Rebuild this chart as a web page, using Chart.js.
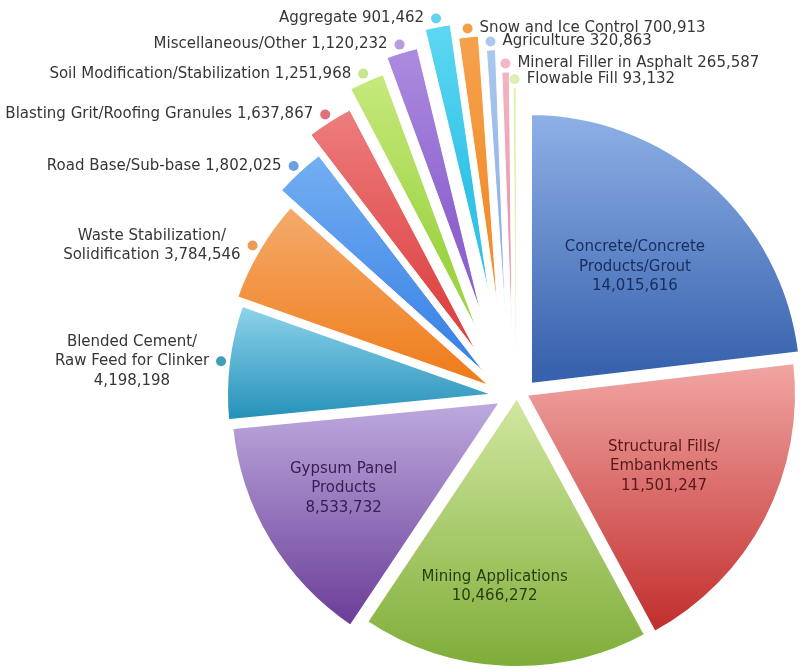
<!DOCTYPE html>
<html>
<head>
<meta charset="utf-8">
<title>Coal Combustion Products – Beneficial Use</title>
<script src="https://cdn.jsdelivr.net/npm/chart.js@4.4.1/dist/chart.umd.min.js"></script>
<style>
  html, body { margin: 0; padding: 0; background: #ffffff; overflow: hidden; width: 800px; height: 671px; }
  #wrap { position: absolute; left: 0; top: 0; width: 1006px; height: 800px; }
</style>
</head>
<body>
<div id="wrap"><canvas id="chart" width="1006" height="800"></canvas></div>
<script>
// Beneficial use by application (short tons)
const categories = [
  'Concrete/Concrete\nProducts/Grout',
  'Structural Fills/\nEmbankments',
  'Mining Applications',
  'Gypsum Panel\nProducts',
  'Blended Cement/\nRaw Feed for Clinker',
  'Waste Stabilization/\nSolidification',
  'Road Base/Sub-base',
  'Blasting Grit/Roofing Granules',
  'Soil Modification/Stabilization',
  'Miscellaneous/Other',
  'Aggregate',
  'Snow and Ice Control',
  'Agriculture',
  'Mineral Filler in Asphalt',
  'Flowable Fill'
];
const tonnage = [
  14015616, 11501247, 10466272, 8533732, 4198198, 3784546, 1802025,
  1637867, 1251968, 1120232, 901462, 700913, 320863, 265587, 93132
];
// whether the figure goes on its own line under the name
const valueOnOwnLine = [true, true, true, true, true, false, false, false, false, false, false, false, false, false, false];

// wedge shading: light at the top, deeper at the bottom
const shadeTop = ['#93b5ea', '#f2a9a6', '#d3e9a3', '#bdaade', '#93d6ee', '#f5ae72', '#7cb5f3', '#f28b8b', '#d6f191', '#bb9fe8', '#78e4f7', '#f8ac5e', '#b6d0f3', '#f5bfcb', '#e6f6b6'];
const shadeBottom = ['#3862ad', '#c2302f', '#80ae3a', '#6a3c97', '#2893ba', '#ef7d1c', '#3c84e6', '#de4646', '#9cd444', '#8d63cd', '#33c3e8', '#f28e2c', '#8db0e8', '#e88da6', '#c6e788'];
const dotColors = ['#5d86cf', '#e07a78', '#a9cc6c', '#9b80c2', '#3f9fb9', '#ef9a52', '#6b9fe2', '#e0707a', '#c9e68f', '#b99be0', '#5fd3ef', '#f2a04a', '#aec8f0', '#f3b7c5', '#dcefb0'];
const innerTextColors = ['#172d5c', '#561a1a', '#2b3d10', '#352052'];

// how far each wedge is pulled away from the centre (x, y), and its white edge
const explodeX = [27, 22, 14, -1, -5, -10, -19, -27, -26, -22, -14, -5.5, 2.6, 9, 13];
const explodeY = [-15, -6, -4, 1, -5, -12, -28, -49, -70, -87, -106, -92.6, -78.4, -56, -40];
const edgeWidth = [4, 4, 4, 4, 4, 3, 1, 1, 1, 1, 1, 1, 1, 1, 0.5];
// placement of the in-wedge captions: share of the radius and turn off the bisector (deg)
const innerDepth = [0.585, 0.58, 0.71, 0.67];
const innerTurn = [0, 0, 4, 2];

const PIE_RADIUS = 272;
const FONT = '15px "DejaVu Sans", "Liberation Sans", sans-serif';

const fmt = v => v.toLocaleString('en-US');

function labelLines(i) {
  const lines = categories[i].split('\n');
  if (valueOnOwnLine[i]) lines.push(fmt(tonnage[i]));
  else lines[lines.length - 1] += ' ' + fmt(tonnage[i]);
  return lines;
}

// Arc that is moved bodily away from the centre
class ExplodedArc extends Chart.ArcElement {
  draw(ctx) {
    ctx.save();
    ctx.translate(this.options.explodeX || 0, this.options.explodeY || 0);
    super.draw(ctx);
    ctx.restore();
  }
}
ExplodedArc.id = 'explodedArc';
ExplodedArc.defaults = { explodeX: 0, explodeY: 0 };

class ExplodedPieController extends Chart.PieController {}
ExplodedPieController.id = 'explodedPie';
ExplodedPieController.defaults = { dataElementType: 'explodedArc' };

Chart.register(ExplodedArc, ExplodedPieController);

function wedgeGeometry(el) {
  const p = el.getProps(['x', 'y', 'startAngle', 'endAngle', 'outerRadius']);
  return {
    cx: p.x + (el.options.explodeX || 0),
    cy: p.y + (el.options.explodeY || 0),
    r: p.outerRadius - (el.options.borderWidth || 0) / 2,
    a0: p.startAngle, a1: p.endAngle,
    mid: (p.startAngle + p.endAngle) / 2
  };
}

const wedgeShading = {
  id: 'wedgeShading',
  beforeDatasetsDraw(chart) {
    const ctx = chart.ctx;
    chart.getDatasetMeta(0).data.forEach((el, i) => {
      const g = wedgeGeometry(el);
      const ys = [g.cy, g.cy + Math.sin(g.a0) * g.r, g.cy + Math.sin(g.a1) * g.r];
      [-Math.PI / 2, Math.PI / 2, 3 * Math.PI / 2].forEach(t => {
        if (t > g.a0 && t < g.a1) ys.push(g.cy + Math.sin(t) * g.r);
      });
      const grad = ctx.createLinearGradient(0, Math.min(...ys), 0, Math.max(...ys));
      grad.addColorStop(0, shadeTop[i]);
      grad.addColorStop(1, shadeBottom[i]);
      el.options.backgroundColor = grad;
    });
  }
};

const wedgeLabels = {
  id: 'wedgeLabels',
  afterDatasetsDraw(chart) {
    const ctx = chart.ctx;
    const total = tonnage.reduce((a, b) => a + b, 0);
    ctx.save();
    ctx.font = FONT;
    ctx.textBaseline = 'middle';
    ctx.textAlign = 'center';
    chart.getDatasetMeta(0).data.forEach((el, i) => {
      const g = wedgeGeometry(el);
      const lines = labelLines(i);
      const lh = 19.5;
      if (tonnage[i] / total > 0.1) {
        const d = g.r * innerDepth[i];
        const a = g.mid + innerTurn[i] * Math.PI / 180;
        const x = g.cx + Math.cos(a) * d;
        const y = g.cy + Math.sin(a) * d;
        ctx.fillStyle = innerTextColors[i];
        lines.forEach((t, k) => ctx.fillText(t, x, y + (k - (lines.length - 1) / 2) * lh));
        return;
      }
      const dr = g.r + 9;
      const dx = g.cx + Math.cos(g.mid) * dr;
      const dy = g.cy + Math.sin(g.mid) * dr;
      ctx.beginPath();
      ctx.arc(dx, dy, 5, 0, Math.PI * 2);
      ctx.fillStyle = dotColors[i];
      ctx.fill();
      ctx.fillStyle = '#363636';
      const blockW = Math.max(...lines.map(t => ctx.measureText(t).width));
      const rightSide = Math.cos(g.mid) > -0.15;
      const bx = rightSide ? dx + 12 + blockW / 2 : dx - 12 - blockW / 2;
      lines.forEach((t, k) => ctx.fillText(t, bx, dy + (k - (lines.length - 1) / 2) * lh));
    });
    ctx.restore();
  }
};

new Chart(document.getElementById('chart'), {
  type: 'explodedPie',
  data: {
    labels: categories.map(c => c.replace('\n', ' ')),
    datasets: [{
      data: tonnage,
      backgroundColor: shadeBottom,
      borderColor: '#ffffff',
      borderWidth: edgeWidth,
      explodeX: explodeX,
      explodeY: explodeY,
      hoverOffset: 0
    }]
  },
  options: {
    responsive: false,
    devicePixelRatio: 1,
    animation: false,
    events: [],
    radius: PIE_RADIUS,
    layout: { padding: 0 },
    plugins: { legend: { display: false }, tooltip: { enabled: false } }
  },
  plugins: [wedgeShading, wedgeLabels]
});
</script>
</body>
</html>
